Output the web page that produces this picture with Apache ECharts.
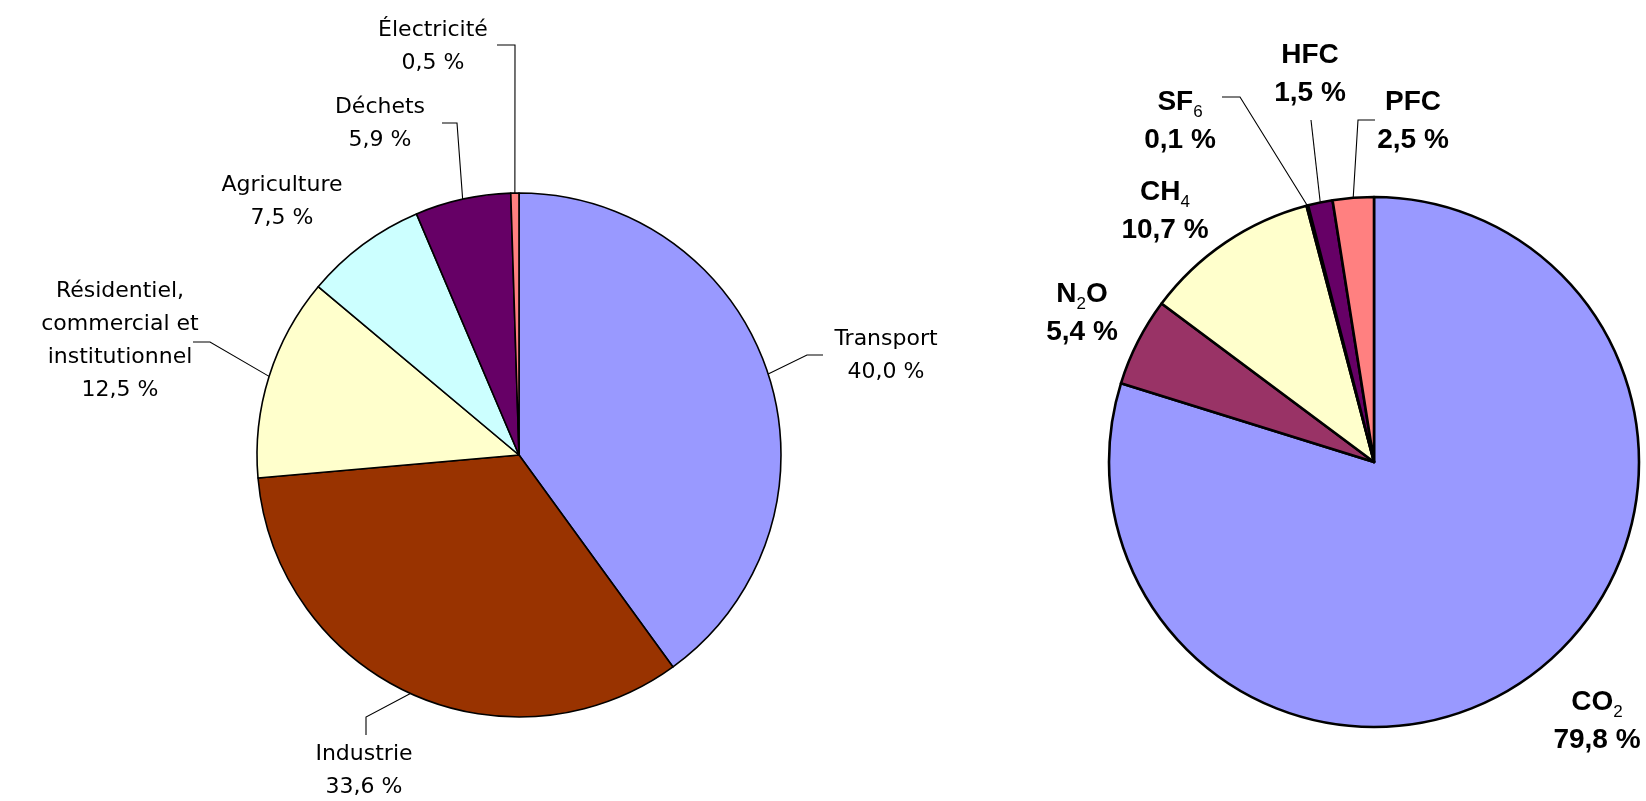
<!DOCTYPE html>
<html>
<head>
<meta charset="utf-8">
<script src="https://cdn.jsdelivr.net/npm/echarts@6/dist/echarts.min.js"></script>
<style>
  html, body { margin: 0; padding: 0; background: #ffffff; }
  #chart { width: 1646px; height: 801px; }
</style>
</head>
<body>
<div id="chart"></div>
<script>
// ---- data ----
const sectorNames = ['Transport', 'Industrie', 'Résidentiel,\ncommercial et\ninstitutionnel', 'Agriculture', 'Déchets', 'Électricité'];
const sectorValues = [40.0, 33.6, 12.5, 7.5, 5.9, 0.5];
const gasNames = ['CO2', 'N2O', 'CH4', 'SF6', 'HFC', 'PFC'];
const gasValues = [79.8, 5.4, 10.7, 0.1, 1.5, 2.5];

// ---- styles / layout ----
const sectorColors = ['#9999FF', '#993300', '#FFFFCC', '#CCFFFF', '#660066', '#FF8080'];
const gasColors = ['#9999FF', '#993366', '#FFFFCC', '#CCFFFF', '#660066', '#FF8080'];

// label block centres and leader elbow/end points (annotation layout)
const sectorLabelSpots = [
  { x: 886, y: 356, line: [[807, 355], [823, 355]] },
  { x: 364, y: 771, line: [[366, 717], [366, 735]] },
  { x: 120, y: 341, line: [[210, 342], [193, 342]] },
  { x: 282, y: 202, line: null },
  { x: 380, y: 124, line: [[457, 123], [442, 123]] },
  { x: 433, y: 47, line: [[515, 45], [497, 45]] }
];
const gasLabelSpots = [
  { x: 1597, y: 721, line: null },
  { x: 1082, y: 313, line: null },
  { x: 1165, y: 211, line: null },
  { x: 1180, y: 121, line: [[1240, 97], [1222, 97]] },
  { x: 1310, y: 74, line: [[1311, 120], [1311, 120]] },
  { x: 1413, y: 121, line: [[1358, 120], [1375, 120]] }
];

function pct(v) { return v.toFixed(1).replace('.', ',') + ' %'; }

function gasRichName(name) {
  const parts = name.match(/\d+|\D+/g);
  return parts.map(function (s) { return /\d/.test(s) ? '{s|' + s + '}' : '{b|' + s + '}'; }).join('');
}

function makeLayout(spots) {
  return function (p) {
    const spec = spots[p.dataIndex];
    const out = { x: spec.x, y: spec.y, align: 'center', verticalAlign: 'middle', hideOverlap: false };
    if (spec.line && p.labelLinePoints) {
      out.labelLinePoints = [p.labelLinePoints[0], spec.line[0], spec.line[1]];
    }
    return out;
  };
}

const chart = echarts.init(document.getElementById('chart'), null, { renderer: 'canvas' });

const sectorData = sectorNames.map(function (n, i) {
  return {
    name: n, value: sectorValues[i],
    itemStyle: { color: sectorColors[i] },
    labelLine: { show: sectorLabelSpots[i].line !== null }
  };
});
const gasData = gasNames.map(function (n, i) {
  return {
    name: n, value: gasValues[i],
    itemStyle: { color: gasColors[i] },
    labelLine: { show: gasLabelSpots[i].line !== null }
  };
});

chart.setOption({
  backgroundColor: '#ffffff',
  animation: false,
  series: [
    {
      type: 'pie',
      center: [519, 455],
      radius: [0, 262],
      startAngle: 90,
      clockwise: true,
      avoidLabelOverlap: false,
      data: sectorData,
      itemStyle: { borderColor: '#000000', borderWidth: 1.6 },
      label: {
        show: true,
        position: 'outside',
        color: '#000000',
        fontFamily: 'DejaVu Sans',
        fontSize: 22,
        lineHeight: 33,
        formatter: function (p) { return p.name + '\n' + pct(p.value); }
      },
      labelLine: { show: true, length: 10, length2: 10, lineStyle: { color: '#000000', width: 1.1 } },
      labelLayout: makeLayout(sectorLabelSpots),
      emphasis: { disabled: true }
    },
    {
      type: 'pie',
      center: [1374, 462],
      radius: [0, 265],
      startAngle: 90,
      clockwise: true,
      avoidLabelOverlap: false,
      data: gasData,
      itemStyle: { borderColor: '#000000', borderWidth: 2.6 },
      label: {
        show: true,
        position: 'outside',
        color: '#000000',
        formatter: function (p) { return gasRichName(p.name) + '\n{b|' + pct(p.value) + '}'; },
        rich: {
          b: { fontFamily: 'Liberation Sans', fontWeight: 'bold', fontSize: 28, lineHeight: 38, color: '#000000' },
          s: { fontFamily: 'Liberation Sans', fontWeight: 'normal', fontSize: 17, lineHeight: 17, verticalAlign: 'bottom', color: '#000000' }
        }
      },
      labelLine: { show: true, length: 10, length2: 10, lineStyle: { color: '#000000', width: 1.1 } },
      labelLayout: makeLayout(gasLabelSpots),
      emphasis: { disabled: true }
    }
  ]
});
</script>
</body>
</html>
